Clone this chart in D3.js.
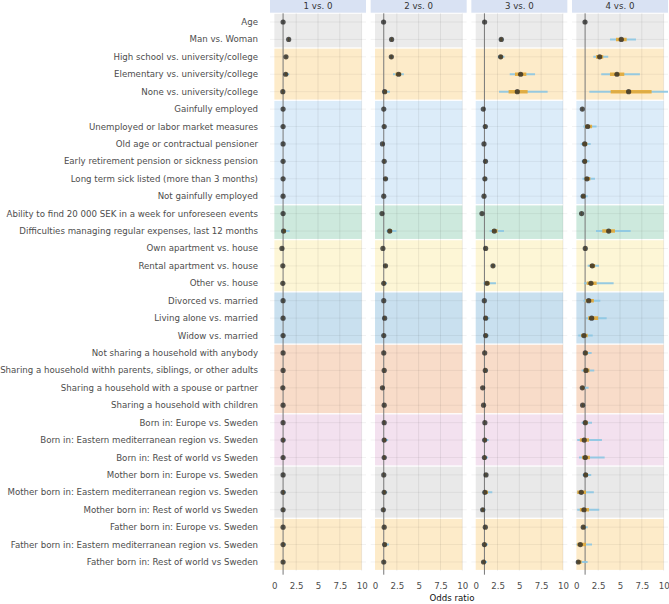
<!DOCTYPE html>
<html><head><meta charset="utf-8">
<script src="https://cdn.jsdelivr.net/npm/d3@7"></script>
<style>body{margin:0;background:#fff}svg{display:block}text{font-family:"DejaVu Sans",sans-serif}</style>
</head><body><svg id="c" width="669" height="604"></svg>
<script>
const labels = ["Age","Man vs. Woman","High school vs. university/college","Elementary vs. university/college","None vs. university/college","Gainfully employed","Unemployed or labor market measures","Old age or contractual pensioner","Early retirement pension or sickness pension","Long term sick listed (more than 3 months)","Not gainfully employed","Ability to find 20 000 SEK in a week for unforeseen events","Difficulties managing regular expenses, last 12 months","Own apartment vs. house","Rental apartment vs. house","Other vs. house","Divorced vs. married","Living alone vs. married","Widow vs. married","Not sharing a household with anybody","Sharing a household withh parents, siblings, or other adults","Sharing a household with a spouse or partner","Sharing a household with children","Born in: Europe vs. Sweden","Born in: Eastern mediterranean region vs. Sweden","Born in: Rest of world vs Sweden","Mother born in: Europe vs. Sweden","Mother born in: Eastern mediterranean region vs. Sweden","Mother born in: Rest of world vs Sweden","Father born in: Europe vs. Sweden","Father born in: Eastern mediterranean region vs. Sweden","Father born in: Rest of world vs Sweden"];
const panels = ["1 vs. 0","2 vs. 0","3 vs. 0","4 vs. 0"];
const groupSizes = [2,3,6,2,3,3,4,3,3,3];
const groupColors = ["#ebebeb","#fdebc9","#dcecf9","#cde9dd","#fdf6d6","#c9e0ef","#f8dcc9","#f3e1ef","#e9e9e9","#fdebc9"];
const xTicks = [0,2.5,5,7.5,10];

const est1=[1.00,1.64,1.33,1.30,0.97, 1.00,1.00,1.00,1.00,1.00,1.00, 1.00,1.05, 0.87,0.97,0.97, 1.00,1.00,1.00, 1.00,1.00,0.97,1.00, 1.00,1.00,1.00, 1.00,1.00,1.00, 1.00,1.00,1.00];
const lo1 =[0.98,1.52,1.20,1.12,0.82, 0.93,0.90,0.92,0.90,0.90,0.90, 0.95,0.88, 0.78,0.88,0.85, 0.90,0.90,0.88, 0.92,0.90,0.88,0.92, 0.90,0.85,0.88, 0.92,0.86,0.85, 0.92,0.85,0.85];
const hi1 =[1.02,1.78,1.48,1.70,1.18, 1.07,1.12,1.10,1.12,1.12,1.10, 1.05,1.75, 0.97,1.08,1.12, 1.12,1.15,1.15, 1.10,1.15,1.08,1.10, 1.12,1.25,1.15, 1.10,1.30,1.15, 1.10,1.30,1.15];
const ilo1=[0.99,1.58,1.27,1.22,0.90, 0.97,0.96,0.97,0.96,0.96,0.96, 0.98,0.98, 0.83,0.93,0.92, 0.96,0.96,0.95, 0.96,0.96,0.93,0.96, 0.96,0.93,0.95, 0.97,0.94,0.93, 0.97,0.93,0.93];
const ihi1=[1.01,1.70,1.40,1.45,1.05, 1.03,1.05,1.04,1.05,1.05,1.04, 1.02,1.30, 0.92,1.02,1.04, 1.05,1.06,1.06, 1.04,1.06,1.02,1.04, 1.05,1.10,1.06, 1.04,1.12,1.07, 1.04,1.12,1.07];

const est2=[0.98,1.90,1.87,2.70,1.10, 1.00,1.05,0.85,1.05,1.20,1.00, 0.80,1.68, 0.90,1.20,1.00, 1.00,1.10,1.00, 1.00,1.05,0.85,1.05, 1.05,1.05,1.05, 1.00,1.05,0.95, 1.05,1.10,1.00];
const lo2 =[0.96,1.75,1.70,2.06,0.85, 0.93,0.92,0.75,0.92,1.00,0.90, 0.72,1.30, 0.80,1.05,0.88, 0.90,0.97,0.88, 0.92,0.92,0.76,0.95, 0.92,0.85,0.88, 0.90,0.88,0.82, 0.93,0.90,0.88];
const hi2 =[1.00,2.05,2.05,3.30,1.70, 1.07,1.20,0.95,1.18,1.50,1.10, 0.88,2.45, 1.00,1.35,1.35, 1.12,1.25,1.15, 1.10,1.20,0.95,1.15, 1.20,1.50,1.30, 1.12,1.40,1.10, 1.18,1.60,1.15];
const ilo2=[0.97,1.82,1.78,2.35,0.98, 0.97,0.98,0.80,0.98,1.10,0.95, 0.76,1.50, 0.85,1.12,0.94, 0.95,1.03,0.94, 0.96,0.98,0.80,1.00, 0.98,0.95,0.96, 0.95,0.96,0.88, 0.99,1.00,0.94];
const ihi2=[0.99,1.98,1.96,3.00,1.35, 1.03,1.12,0.90,1.12,1.32,1.05, 0.84,1.95, 0.95,1.28,1.15, 1.06,1.18,1.07, 1.05,1.12,0.90,1.10, 1.12,1.25,1.17, 1.06,1.20,1.02, 1.12,1.30,1.07];

const est3=[1.02,2.93,2.86,5.15,4.77, 0.87,1.10,0.95,1.12,1.05,0.95, 0.72,2.13, 1.14,1.98,1.29, 0.99,1.14,1.14, 1.03,1.10,0.80,0.90, 1.05,1.03,1.00, 1.18,1.05,0.80, 1.10,1.00,0.90];
const lo3 =[1.00,2.70,2.55,3.90,2.67, 0.80,0.98,0.85,1.00,0.90,0.82, 0.65,1.60, 1.02,1.80,0.90, 0.88,1.00,1.00, 0.93,0.95,0.72,0.82, 0.95,0.80,0.80, 1.05,0.80,0.60, 0.98,0.78,0.70];
const hi3 =[1.04,3.20,3.30,6.80,8.24, 0.95,1.30,1.07,1.30,1.30,1.10, 0.80,3.24, 1.28,2.20,2.32, 1.12,1.60,1.50, 1.15,1.40,0.90,1.00, 1.18,1.50,1.40, 1.35,1.90,1.10, 1.25,1.40,1.30];
const ilo3=[1.01,2.82,2.72,4.50,3.77, 0.84,1.04,0.90,1.06,0.98,0.88, 0.68,1.87, 1.08,1.90,1.08, 0.94,1.06,1.06, 0.98,1.02,0.76,0.86, 1.00,0.92,0.90, 1.11,0.93,0.70, 1.04,0.90,0.80];
const ihi3=[1.03,3.05,3.05,5.80,5.95, 0.91,1.18,1.01,1.20,1.15,1.02, 0.76,2.50, 1.20,2.08,1.60, 1.05,1.30,1.28, 1.08,1.22,0.85,0.95, 1.10,1.22,1.15, 1.25,1.40,0.92, 1.17,1.15,1.05];

const est4=[0.99,5.15,2.67,4.65,5.99, 0.68,1.29,0.95,0.95,1.21,0.79, 0.60,3.70, 1.02,1.82,1.67, 1.41,1.75,0.87, 1.02,1.10,0.68,0.72, 1.02,0.90,1.02, 1.06,0.56,0.87, 0.79,0.45,0.22];
const lo4 =[0.96,3.85,1.94,2.85,1.48, 0.58,0.79,0.50,0.60,0.70,0.45, 0.52,2.25, 0.85,1.29,0.87, 0.80,1.10,0.22, 0.80,0.60,0.50,0.58, 0.60,0.10,0.30, 0.70,0.10,0.10, 0.60,0.00,0.00];
const hi4 =[1.02,6.83,3.65,7.28,12.0, 0.78,2.32,1.64,1.50,2.13,1.30, 0.68,6.22, 1.22,2.59,4.27, 2.74,3.47,1.87, 1.75,2.05,1.40,0.95, 1.79,2.93,3.24, 1.70,2.00,2.62, 1.30,1.79,1.29];
const ilo4=[0.98,4.54,2.25,3.85,3.93, 0.63,1.00,0.72,0.78,0.95,0.60, 0.56,2.97, 0.93,1.55,1.18, 1.05,1.35,0.55, 0.90,0.85,0.58,0.65, 0.85,0.40,0.65, 0.88,0.10,0.40, 0.70,0.10,0.10];
const ihi4=[1.00,5.76,3.08,5.49,8.62, 0.73,1.80,1.25,1.20,1.60,1.00, 0.64,4.42, 1.12,2.15,2.32, 2.00,2.50,1.30, 1.30,1.50,0.90,0.82, 1.30,1.45,1.55, 1.30,1.10,1.45, 1.00,1.10,0.60];

const series = [[est1,lo1,hi1,ilo1,ihi1],[est2,lo2,hi2,ilo2,ihi2],[est3,lo3,hi3,ilo3,ihi3],[est4,lo4,hi4,ilo4,ihi4]];

const svg = d3.select("#c");
const panelLeft = 270, panelW = 96, panelStep = 100.67, stripH = 12.7;
const plotTop = 13.3, plotBottom = 570.7;
const y = d3.scalePoint().domain(d3.range(labels.length)).range([plotTop, plotBottom]).padding(0.5);
const step = y.step();
const x = d3.scaleLinear().domain([-0.5, 10.5]).range([0, panelW]);

// group extents
const groups = []; let s = 0;
groupSizes.forEach((n, i) => { groups.push({start: s, end: s + n - 1, color: groupColors[i]}); s += n; });

// y labels
svg.append("g").selectAll("text").data(labels).join("text")
  .attr("x", 258).attr("y", (d, i) => y(i)).attr("dy", "0.35em")
  .attr("text-anchor", "end").attr("font-size", 8.65).attr("fill", "#4d4d4d").text(d => d);

panels.forEach((p, pi) => {
  const g = svg.append("g").attr("transform", `translate(${panelLeft + pi * panelStep},0)`);
  const clipId = "clip" + pi;
  g.append("clipPath").attr("id", clipId).append("rect").attr("x", 0).attr("y", plotTop).attr("width", panelW).attr("height", plotBottom - plotTop);
  // strip
  g.append("rect").attr("x", 0).attr("y", 0).attr("width", panelW).attr("height", stripH).attr("fill", "#d9e2f3");
  g.append("text").attr("x", panelW / 2).attr("y", stripH / 2).attr("dy", "0.36em").attr("text-anchor", "middle")
    .attr("font-size", 8.65).attr("fill", "#333").text(p);
  // bands
  g.append("g").selectAll("rect").data(groups).join("rect")
    .attr("x", x(0)).attr("width", x(10) - x(0))
    .attr("y", d => y(d.start) - step / 2 + 0.5).attr("height", d => (d.end - d.start + 1) * step - 1.3)
    .attr("fill", d => d.color);
  // gridlines
  g.append("g").selectAll("line").data(labels).join("line")
    .attr("x1", 0).attr("x2", panelW).attr("y1", (d, i) => y(i)).attr("y2", (d, i) => y(i))
    .attr("stroke", "#000").attr("stroke-opacity", 0.07).attr("stroke-width", 0.8);
  g.append("g").selectAll("line").data(xTicks.slice(1)).join("line")
    .attr("x1", d => x(d)).attr("x2", d => x(d)).attr("y1", plotTop).attr("y2", plotBottom)
    .attr("stroke", "#000").attr("stroke-opacity", 0.09).attr("stroke-width", 0.8);
  // reference line at 1
  g.append("line").attr("x1", x(1)).attr("x2", x(1)).attr("y1", plotTop).attr("y2", plotBottom + 4)
    .attr("stroke", "#777").attr("stroke-width", 1);
  // x axis labels
  const ax = g.append("g").attr("transform", `translate(0,${plotBottom})`)
    .call(d3.axisBottom(x).tickValues(xTicks).tickFormat(d3.format("~g")).tickSize(0).tickPadding(12));
  ax.select(".domain").remove();
  ax.selectAll("text").attr("font-size", 8.65).attr("fill", "#4d4d4d").attr("font-family", "DejaVu Sans");

  const [est, lo, hi, ilo, ihi] = series[pi];
  const m = g.append("g").attr("clip-path", `url(#${clipId})`);
  m.append("g").selectAll("line").data(est).join("line")
    .attr("x1", (d, i) => x(lo[i])).attr("x2", (d, i) => x(hi[i]))
    .attr("y1", (d, i) => y(i)).attr("y2", (d, i) => y(i))
    .attr("stroke", "#8cc6e3").attr("stroke-width", 2).attr("stroke-opacity", 0.9);
  m.append("g").selectAll("line").data(est).join("line")
    .attr("x1", (d, i) => x(ilo[i])).attr("x2", (d, i) => x(ihi[i]))
    .attr("y1", (d, i) => y(i)).attr("y2", (d, i) => y(i))
    .attr("stroke", "#e8a72c").attr("stroke-width", 3.6).attr("stroke-opacity", 0.85);
  m.append("g").selectAll("circle").data(est).join("circle")
    .attr("cx", d => x(d)).attr("cy", (d, i) => y(i)).attr("r", 2.6)
    .attr("fill", "#222").attr("fill-opacity", 0.75);
});

svg.append("text").attr("x", 452).attr("y", 601).attr("text-anchor", "middle")
  .attr("font-size", 8.65).attr("fill", "#111").text("Odds ratio");
</script></body></html>
